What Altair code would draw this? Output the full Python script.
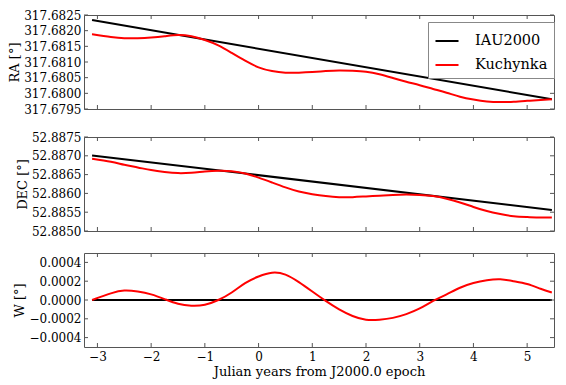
import altair as alt
import pandas as pd

# ---- data ----
years = [-3.1, -2.75, -2.5, -2.25, -2.0, -1.75, -1.5, -1.25, -1.0, -0.75, -0.5, -0.25,
         0.0, 0.25, 0.5, 0.75, 1.0, 1.25, 1.5, 1.75, 2.0, 2.25, 2.5, 2.75, 3.0, 3.25,
         3.5, 3.75, 4.0, 4.25, 4.5, 4.75, 5.0, 5.25, 5.46]

ra_kuchynka = [317.68189, 317.68180, 317.68176, 317.68176, 317.68178, 317.68182, 317.68186,
               317.68182, 317.68170, 317.68153, 317.68129, 317.68104, 317.68083, 317.68071,
               317.68066, 317.68066, 317.68068, 317.68071, 317.68073, 317.68072, 317.68069,
               317.68061, 317.68049, 317.68037, 317.68026, 317.68014, 317.68002, 317.67989,
               317.67980, 317.67974, 317.67972, 317.67973, 317.67976, 317.67979, 317.67981]

dec_kuchynka = [52.88692, 52.88684, 52.88676, 52.88669, 52.88662, 52.88657, 52.88654,
                52.88655, 52.88658, 52.88660, 52.88659, 52.88653, 52.88642, 52.88629,
                52.88616, 52.88605, 52.88598, 52.88593, 52.88590, 52.88590, 52.88592,
                52.88594, 52.88596, 52.88597, 52.88596, 52.88593, 52.88586, 52.88576,
                52.88564, 52.88553, 52.88545, 52.88539, 52.88537, 52.88536, 52.88536]

w_kuchynka = [0.00000, 0.00007, 0.00010, 0.00009, 0.00006, 0.00001, -0.00004, -0.00006,
              -0.00005, 0.00000, 0.00008, 0.00018, 0.00025, 0.00029, 0.00027, 0.00019,
              0.00009, -0.00001, -0.00010, -0.00017, -0.00021, -0.00021, -0.00019, -0.00015,
              -0.00009, -0.00001, 0.00006, 0.00013, 0.00018, 0.00021, 0.00022, 0.00020,
              0.00017, 0.00012, 0.00008]

iau_years = [-3.1, 5.46]
ra_iau = [317.68234, 317.67981]
dec_iau = [52.88701, 52.88556]
w_iau = [0.0, 0.0]

series_names = ["IAU2000", "Kuchynka"]
series_colors = ["#000000", "#ff0000"]

x_ticks = [-3, -2, -1, 0, 1, 2, 3, 4, 5]
ra_ticks = [317.6795, 317.6800, 317.6805, 317.6810, 317.6815, 317.6820, 317.6825]
dec_ticks = [52.8850, 52.8855, 52.8860, 52.8865, 52.8870, 52.8875]
w_ticks = [-0.0004, -0.0002, 0.0, 0.0002, 0.0004]

ra_domain = [317.6795, 317.6825]
dec_domain = [52.8850, 52.8875]
w_domain = [-0.0005, 0.0005]
x_domain = [-3.25, 5.5]

FONT = "DejaVu Serif"
W = 470
H = 94
FRAME = "#555555"


def make_df(kuch, iau):
    rows = [{"year": y, "value": v, "series": "IAU2000"} for y, v in zip(iau_years, iau)]
    rows += [{"year": y, "value": v, "series": "Kuchynka"} for y, v in zip(years, kuch)]
    return pd.DataFrame(rows)


def panel(kuch, iau, title, domain, yticks, bottom, legend):
    df = make_df(kuch, iau)
    xscale = alt.Scale(domain=x_domain, nice=False, zero=False)
    yscale = alt.Scale(domain=domain, nice=False, zero=False)
    if bottom:
        xaxis = alt.Axis(values=x_ticks, format="d", title="Julian years from J2000.0 epoch",
                         ticks=False, domain=False, grid=False, labelPadding=4, titlePadding=3)
    else:
        xaxis = alt.Axis(values=x_ticks, labels=False, title=None, ticks=False,
                         domain=False, grid=False)
    yaxis = alt.Axis(values=yticks, format=".4f", title=title, ticks=False,
                     domain=False, grid=False, labelPadding=3, titlePadding=2)
    X = alt.X("year:Q", scale=xscale, axis=xaxis)
    Y = alt.Y("value:Q", scale=yscale, axis=yaxis)
    if legend:
        leg = alt.Legend(title=None, orient="none", legendX=W - 126, legendY=7,
                         symbolType="stroke", symbolStrokeWidth=2, symbolSize=530,
                         labelFont=FONT, labelFontSize=14.5, labelColor="black",
                         strokeColor="#888888", fillColor="white", padding=6,
                         rowPadding=4, labelOffset=15, cornerRadius=0)
    else:
        leg = None
    lines = alt.Chart(df).mark_line(strokeWidth=2, interpolate="natural").encode(
        x=X, y=Y,
        color=alt.Color("series:N", scale=alt.Scale(domain=series_names, range=series_colors),
                        legend=leg),
    )
    xt = pd.DataFrame({"year": x_ticks})
    yt = pd.DataFrame({"value": yticks})
    top_ticks = alt.Chart(xt).mark_rule(color=FRAME, strokeWidth=1).encode(
        x=X, y=alt.value(0), y2=alt.value(4))
    bot_ticks = alt.Chart(xt).mark_rule(color=FRAME, strokeWidth=1).encode(
        x=X, y=alt.value(H - 4), y2=alt.value(H))
    left_ticks = alt.Chart(yt).mark_rule(color=FRAME, strokeWidth=1).encode(
        y=Y, x=alt.value(0), x2=alt.value(4))
    right_ticks = alt.Chart(yt).mark_rule(color=FRAME, strokeWidth=1).encode(
        y=Y, x=alt.value(W - 4), x2=alt.value(W))
    return alt.layer(lines, top_ticks, bot_ticks, left_ticks, right_ticks).properties(
        width=W, height=H).resolve_legend(color="independent")


p1 = panel(ra_kuchynka, ra_iau, "RA [°]", ra_domain, ra_ticks, False, True)
p2 = panel(dec_kuchynka, dec_iau, "DEC [°]", dec_domain, dec_ticks, False, False)
p3 = panel(w_kuchynka, w_iau, "W [°]", w_domain, w_ticks, True, False)

chart = alt.vconcat(p1, p2, p3, spacing=14).resolve_legend(color="independent").configure(
    font=FONT, padding={"left": 0, "top": 0, "right": 0, "bottom": 0}
).configure_view(
    stroke=FRAME, strokeWidth=1
).configure_axis(
    labelFont=FONT, labelFontSize=12, labelColor="black",
    titleFont=FONT, titleFontSize=13, titleFontWeight="normal", titleColor="black"
)

chart.save("out.html", embed_options={"renderer": "svg", "actions": False})
